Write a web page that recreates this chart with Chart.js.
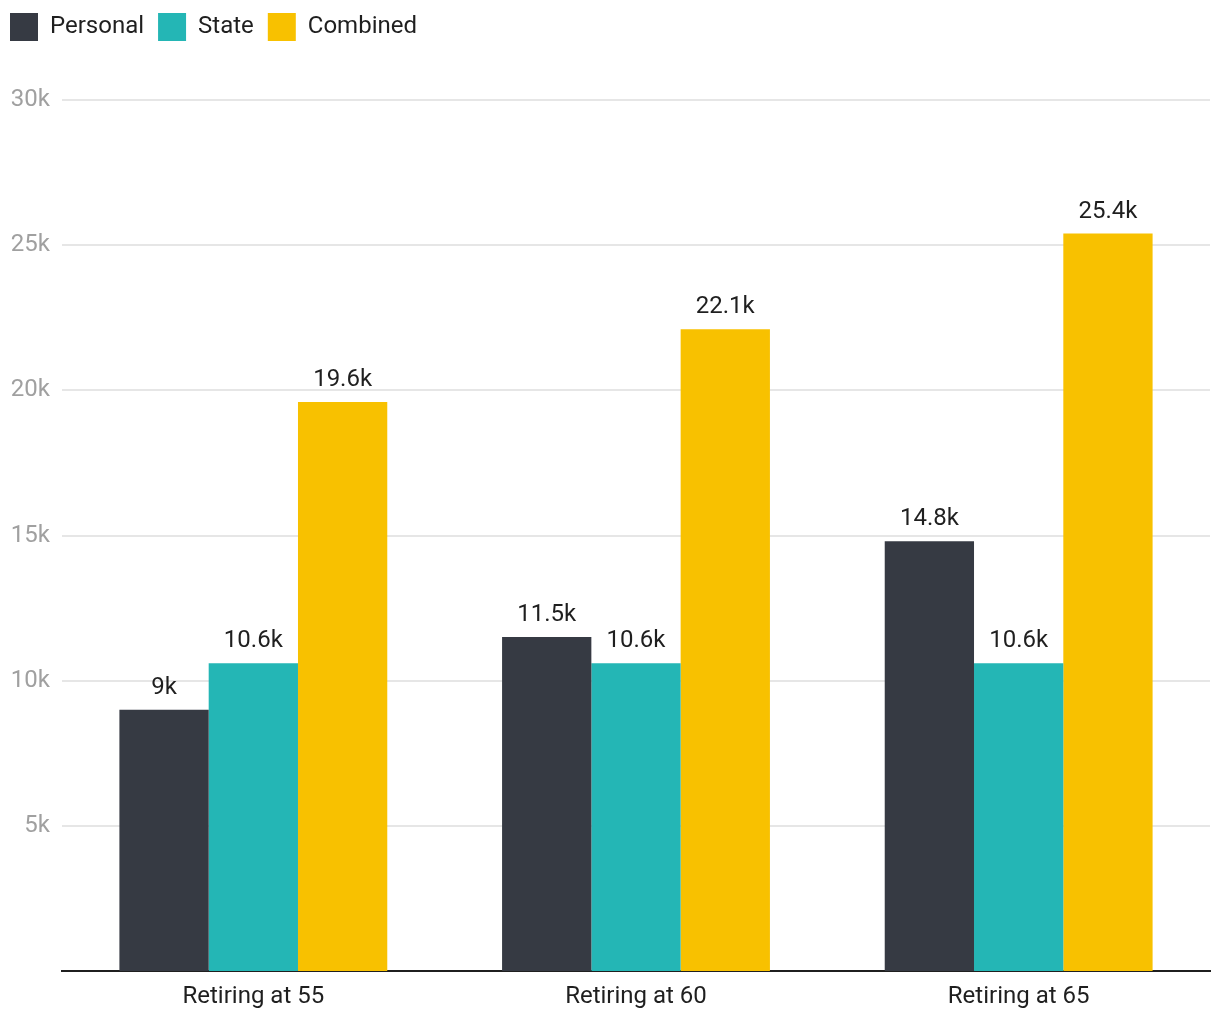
<!DOCTYPE html>
<html>
<head>
<meta charset="utf-8">
<script src="https://cdn.jsdelivr.net/npm/chart.js@4"></script>
<style>
  html, body { margin: 0; padding: 0; background: #fff; }
  #wrap { width: 1220px; height: 1020px; }
</style>
</head>
<body>
<div id="wrap"><canvas id="chart"></canvas></div>
<script>
const categories = ['Retiring at 55', 'Retiring at 60', 'Retiring at 65'];
const personal = [9000, 11500, 14800];
const state = [10600, 10600, 10600];
const combined = [19600, 22100, 25400];
const yTicks = [5000, 10000, 15000, 20000, 25000, 30000];

const fontFamily = 'Roboto, "Noto Sans", sans-serif';

function fmtK(v) {
    return (v / 1000) + 'k';
}

// value labels over each bar
const barLabels = {
    id: 'barLabels',
    afterDatasetsDraw(chart) {
        const ctx = chart.ctx;
        ctx.save();
        ctx.font = '24px ' + fontFamily;
        ctx.fillStyle = '#1f1f1f';
        ctx.textAlign = 'center';
        ctx.textBaseline = 'alphabetic';
        chart.data.datasets.forEach((ds, i) => {
            chart.getDatasetMeta(i).data.forEach((bar, j) => {
                ctx.fillText(fmtK(ds.data[j]), bar.x, bar.y - 16);
            });
        });
        ctx.restore();
    }
};

// legend sits in the corner, plot starts lower down
const legendPlace = {
    id: 'legendPlace',
    beforeLayout(chart) {
        const lg = chart.legend;
        if (lg && !lg._patched) {
            const fit = lg.fit;
            lg.fit = function () { fit.call(this); this.height = 100; };
            lg._patched = true;
        }
    },
    afterLayout(chart) {
        const lg = chart.legend;
        if (!lg) return;
        lg.left = -4;
        lg.top = -1;
    }
};

new Chart(document.getElementById('chart'), {
    type: 'bar',
    data: {
        labels: categories,
        datasets: [
            { label: 'Personal', data: personal, backgroundColor: '#363a43' },
            { label: 'State', data: state, backgroundColor: '#24b6b5' },
            { label: 'Combined', data: combined, backgroundColor: '#f8c100' }
        ]
    },
    options: {
        responsive: true,
        maintainAspectRatio: false,
        animation: false,
        devicePixelRatio: 1,
        layout: { padding: { left: 10, right: 10, top: 0, bottom: 0 } },
        datasets: { bar: { categoryPercentage: 0.7, barPercentage: 1.0 } },
        plugins: {
            tooltip: { enabled: false },
            legend: {
                position: 'top',
                align: 'start',
                labels: {
                    boxWidth: 28,
                    boxHeight: 28,
                    padding: 14,
                    color: '#1f1f1f',
                    font: { family: fontFamily, size: 24 }
                }
            }
        },
        scales: {
            x: {
                afterFit(scale) { scale.height = 49; },
                grid: { display: false, drawTicks: false },
                border: { color: '#1f1f1f', width: 2 },
                ticks: { color: '#1f1f1f', padding: 12, font: { family: fontFamily, size: 24 } }
            },
            y: {
                min: 0,
                max: 30000,
                afterFit(scale) { scale.width = 52; },
                afterBuildTicks(scale) { scale.ticks = yTicks.map(v => ({ value: v })); },
                grid: { color: '#e6e6e6', lineWidth: 2, drawTicks: false },
                border: { display: false },
                ticks: {
                    color: '#a0a0a0',
                    padding: 12,
                    font: { family: fontFamily, size: 24 },
                    callback: v => fmtK(v)
                }
            }
        }
    },
    plugins: [barLabels, legendPlace]
});
</script>
</body>
</html>
